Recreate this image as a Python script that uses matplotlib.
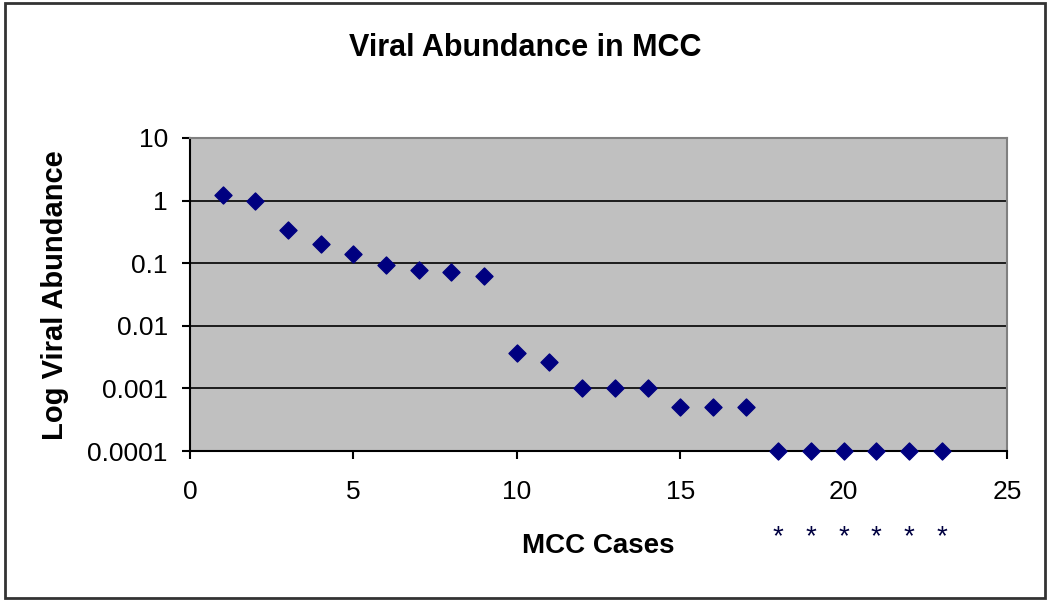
import matplotlib.pyplot as plt
from matplotlib.patches import Rectangle
from matplotlib.ticker import FixedLocator, NullLocator

plt.rcParams["font.family"] = ["Liberation Sans", "DejaVu Sans"]

# values
cases = list(range(1, 24))
abundance = [
    1.25, 1.0, 0.34, 0.2, 0.14, 0.093, 0.078, 0.072, 0.063,
    0.0037, 0.0026, 0.001, 0.001, 0.001, 0.0005, 0.0005, 0.0005,
    0.0001, 0.0001, 0.0001, 0.0001, 0.0001, 0.0001,
]
star_cases = [18, 19, 20, 21, 22, 23]
y_ticks = [10, 1, 0.1, 0.01, 0.001, 0.0001]
y_labels = ["10", "1", "0.1", "0.01", "0.001", "0.0001"]
x_ticks = [0, 5, 10, 15, 20, 25]

fig = plt.figure(figsize=(10.5, 6.02), dpi=100)
ax = fig.add_axes([0.181, 0.2508, 0.778, 0.520])
ax.set_facecolor("#C0C0C0")

ax.set_yscale("log")
ax.set_ylim(0.0001, 10)
ax.set_xlim(0, 25)
ax.yaxis.set_major_locator(FixedLocator(y_ticks))
ax.yaxis.set_minor_locator(NullLocator())
ax.set_yticklabels(y_labels)
ax.set_xticks(x_ticks)
ax.grid(axis="y", color="black", lw=1.2)
ax.set_axisbelow(True)

ax.scatter(cases, abundance, marker="D", s=75, color="#000080", zorder=3, clip_on=False)

for side in ("top", "right"):
    ax.spines[side].set_color("#808080")
    ax.spines[side].set_linewidth(1.5)
for side in ("left", "bottom"):
    ax.spines[side].set_color("black")
    ax.spines[side].set_linewidth(1.5)

ax.tick_params(direction="out", length=6, width=1.5, labelsize=19, pad=10)
ax.tick_params(axis="x", pad=15)

fig.text(0.5, 1 - 48 / 602, "Viral Abundance in MCC", ha="center", va="center",
         fontsize=22, fontweight="bold")
fig.text((190 + 1007) / 2 / 1050, 1 - 546 / 602, "MCC Cases", ha="center", va="center",
         fontsize=20, fontweight="bold")
fig.text(55 / 1050, 1 - 295 / 602, "Log Viral Abundance", ha="center", va="center",
         rotation=90, fontsize=21, fontweight="bold")

for c in star_cases:
    ax.text(c, 1 - (537 - 138) / 313, "*", transform=ax.get_xaxis_transform(),
            ha="center", va="center", fontsize=20, color="#000040")

fig.patches.append(Rectangle((0.005, 0.007), 0.990, 0.988, transform=fig.transFigure,
                             fill=False, edgecolor="#333333", lw=2))

fig.savefig("out.png", dpi=100)
